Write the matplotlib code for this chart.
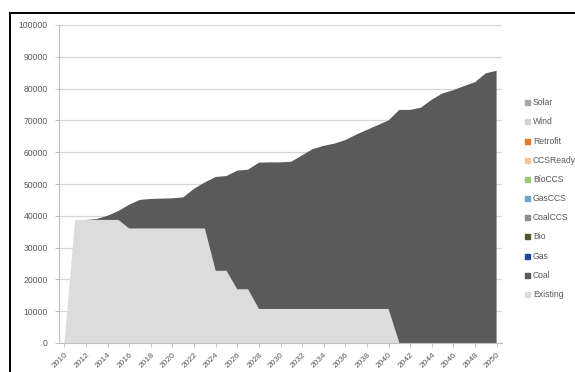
import matplotlib
matplotlib.use("Agg")
import matplotlib.pyplot as plt
from matplotlib.lines import Line2D
from matplotlib.patches import Rectangle

# Installed generating capacity by technology, 2010-2050
years = list(range(2010, 2051))

existing = [0, 38700, 38700, 38700, 38700, 38700,
            36000, 36000, 36000, 36000, 36000, 36000, 36000, 36000,
            22700, 22700, 16900, 16900,
            10700, 10700, 10700, 10700, 10700, 10700, 10700, 10700, 10700,
            10700, 10700, 10700, 10700,
            0, 0, 0, 0, 0, 0, 0, 0, 0, 0]

coal = [0, 0, 0, 300, 1300, 2800, 7500, 9000, 9300, 9400, 9500, 9800,
        12500, 14500, 29500, 29800, 37300, 37600, 46000, 46100, 46100, 46300,
        48300, 50300, 51300, 52000, 53100, 54800, 56300, 57800, 59300,
        73300, 73300, 74000, 76500, 78500, 79500, 80800, 82000, 84800, 85600]

zeros = [0] * len(years)
gas = zeros
bio = zeros
coalccs = zeros
gasccs = zeros
bioccs = zeros
ccsready = zeros
retrofit = zeros
wind = zeros
solar = zeros

series_names = ["Existing", "Coal", "Gas", "Bio", "CoalCCS", "GasCCS",
                "BioCCS", "CCSReady", "Retrofit", "Wind", "Solar"]
series_values = [existing, coal, gas, bio, coalccs, gasccs,
                 bioccs, ccsready, retrofit, wind, solar]
series_colors = ["#dcdcdc", "#5a5a5a", "#24449a", "#4f5a2c", "#8c8c8c",
                 "#6aa8c4", "#9cc97a", "#f8c49a", "#e07a2e", "#d4d4d4",
                 "#a8a8a8"]

y_ticks = list(range(0, 100001, 10000))
x_tick_labels = [str(y) for y in years[::2]]

W, H = 575, 372
fig = plt.figure(figsize=(W / 100, H / 100), dpi=100)
fig.patch.set_facecolor("white")

# outer chart frame
fig.patches.append(Rectangle((10 / W, -0.1), 1.2, (H - 13) / H + 0.1,
                             transform=fig.transFigure, fill=False,
                             edgecolor="black", linewidth=1.4))

ax = fig.add_axes([59 / W, (H - 343) / H, 443 / W, 318 / H])
x = list(range(len(years)))
ax.stackplot(x, *series_values, colors=series_colors, linewidth=0)

ax.set_xlim(-0.5, len(years) - 0.5)
ax.set_ylim(0, 100000)

txt_color = "#595959"
ax.set_yticks(y_ticks)
ax.set_yticklabels([str(v) for v in y_ticks], fontsize=6.2, color=txt_color,
                   family="Liberation Sans")
ax.yaxis.grid(True, color="#d6d6d6", linewidth=0.9)
ax.set_axisbelow(True)

ax.set_xticks(x[::2])
ax.set_xticklabels(x_tick_labels, rotation=45, ha="right",
                   rotation_mode="anchor", fontsize=6.0, color=txt_color,
                   family="Liberation Sans")

ax.tick_params(axis="y", length=3, width=0.7, color="#bfbfbf", pad=5)
ax.tick_params(axis="x", length=3, width=0.7, color="#bfbfbf", pad=3)

for side in ["top", "right"]:
    ax.spines[side].set_visible(False)
for side in ["left", "bottom"]:
    ax.spines[side].set_color("#bfbfbf")
    ax.spines[side].set_linewidth(0.8)
ax.patch.set_alpha(0)

# legend, top entry first
handles = [Line2D([0], [0], marker="s", linestyle="none", markersize=3.6,
                  markerfacecolor=c, markeredgecolor=c)
           for c in series_colors[::-1]]
leg = fig.legend(handles, series_names[::-1], loc="upper left",
                 bbox_to_anchor=(520 / W, 1 - 94 / H), frameon=False,
                 handlelength=0.6, handletextpad=0.4,
                 labelspacing=1.18, borderpad=0,
                 prop={"family": "Liberation Sans", "size": 6.2})
for t in leg.get_texts():
    t.set_color(txt_color)

fig.savefig("out.png", dpi=100, facecolor="white")
